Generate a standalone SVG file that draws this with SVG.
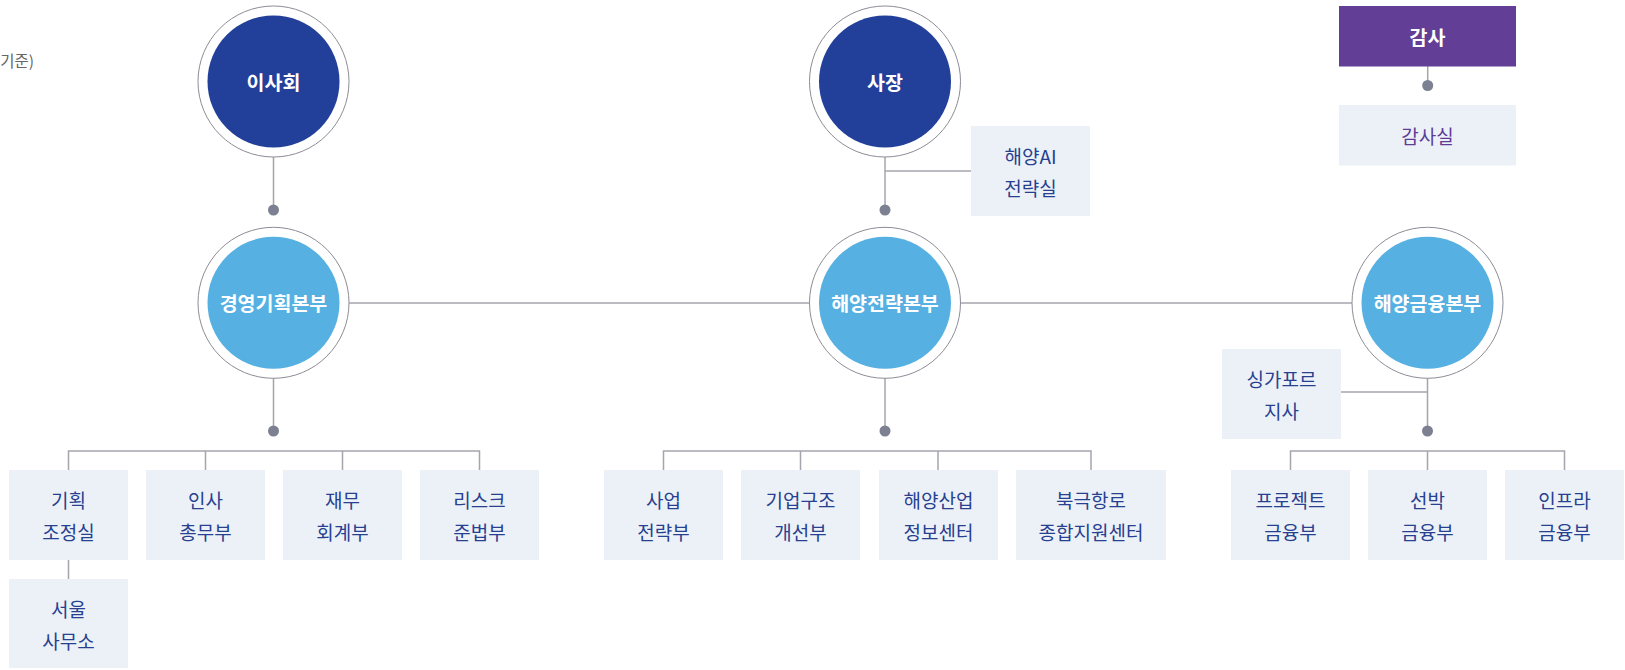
<svg xmlns="http://www.w3.org/2000/svg" width="1625" height="670" viewBox="0 0 1625 670">
<style>
text{font-family:"Noto Sans CJK KR","Noto Sans",sans-serif;text-anchor:middle;dominant-baseline:central}
.ring{fill:#fff;stroke:#8c8c96;stroke-width:1}
.navy{fill:#22409a}
.sky{fill:#56b0e2}
.ct{fill:#fff;font-size:19.5px;font-weight:700}
.box{fill:#ecf1f8}
.bt{fill:#27408f;font-size:19px}
.pt{fill:#5d3b97;font-size:19px}
.ln{stroke:#a5a5ad;stroke-width:1.5;fill:none}
.dot{fill:#7c8090}
.note{fill:#666;font-size:15.5px;text-anchor:end}
</style>
<rect width="1625" height="670" fill="#fff"/>
<text class="note" x="34" y="60">기준)</text>
<g id="connectors">
<path class="ln" d="M273.5 157V210M885 157V210M885 171H971M1427.7 66V85M349 303H1352"/>
<path class="ln" d="M273.5 378V431M68.5 470V451H479.5V470M205.5 451V470M342.5 451V470M68.5 560V579"/>
<path class="ln" d="M885 378V431M663.5 470V451H1091V470M800.5 451V470M938 451V470"/>
<path class="ln" d="M1427.5 378V431M1341 392H1427.5M1290.5 470V451H1564.5V470M1427.5 451V470"/>
<circle class="dot" cx="273.5" cy="210" r="5.5"/>
<circle class="dot" cx="885" cy="210" r="5.5"/>
<circle class="dot" cx="1427.7" cy="85.5" r="5.5"/>
<circle class="dot" cx="273.5" cy="431" r="5.5"/>
<circle class="dot" cx="885" cy="431" r="5.5"/>
<circle class="dot" cx="1427.5" cy="431" r="5.5"/>
</g>
<g id="board"><circle class="ring" cx="273.5" cy="81.5" r="75.5"/><circle class="navy" cx="273.5" cy="81.5" r="66"/><text class="ct" x="273.5" y="81.5">이사회</text></g>
<g id="president"><circle class="ring" cx="885" cy="81.5" r="75.5"/><circle class="navy" cx="885" cy="81.5" r="66"/><text class="ct" x="885" y="81.5">사장</text></g>
<g id="audit"><rect x="1339" y="6" width="177" height="60.5" fill="#633e96"/><text class="ct" x="1427.5" y="36">감사</text></g>
<g id="audit-office"><rect class="box" x="1339" y="105" width="177" height="60.5"/><text class="pt" x="1427.5" y="135">감사실</text></g>
<g id="ai-office"><rect class="box" x="971" y="126" width="119" height="90"/><text class="bt" x="1030.5" y="155">해양AI</text><text class="bt" x="1030.5" y="187">전략실</text></g>
<g id="mgmt"><circle class="ring" cx="273.5" cy="302.8" r="75.5"/><circle class="sky" cx="273.5" cy="302.8" r="66"/><text class="ct" x="273.5" y="302.8">경영기획본부</text></g>
<g id="strategy"><circle class="ring" cx="885" cy="302.8" r="75.5"/><circle class="sky" cx="885" cy="302.8" r="66"/><text class="ct" x="885" y="302.8">해양전략본부</text></g>
<g id="finance"><circle class="ring" cx="1427.5" cy="302.8" r="75.5"/><circle class="sky" cx="1427.5" cy="302.8" r="66"/><text class="ct" x="1427.5" y="302.8">해양금융본부</text></g>
<g id="singapore"><rect class="box" x="1222" y="349" width="119" height="90"/><text class="bt" x="1281.5" y="378">싱가포르</text><text class="bt" x="1281.5" y="410">지사</text></g>
<g id="planning"><rect class="box" x="9" y="470" width="119" height="90"/><text class="bt" x="68.5" y="499">기획</text><text class="bt" x="68.5" y="531">조정실</text></g>
<g id="hr"><rect class="box" x="146" y="470" width="119" height="90"/><text class="bt" x="205.5" y="499">인사</text><text class="bt" x="205.5" y="531">총무부</text></g>
<g id="accounting"><rect class="box" x="283" y="470" width="119" height="90"/><text class="bt" x="342.5" y="499">재무</text><text class="bt" x="342.5" y="531">회계부</text></g>
<g id="risk"><rect class="box" x="420" y="470" width="119" height="90"/><text class="bt" x="479.5" y="499">리스크</text><text class="bt" x="479.5" y="531">준법부</text></g>
<g id="seoul"><rect class="box" x="9" y="579" width="119" height="89"/><text class="bt" x="68.5" y="608">서울</text><text class="bt" x="68.5" y="640">사무소</text></g>
<g id="biz"><rect class="box" x="604" y="470" width="119" height="90"/><text class="bt" x="663.5" y="499">사업</text><text class="bt" x="663.5" y="531">전략부</text></g>
<g id="restructure"><rect class="box" x="741" y="470" width="119" height="90"/><text class="bt" x="800.5" y="499">기업구조</text><text class="bt" x="800.5" y="531">개선부</text></g>
<g id="info"><rect class="box" x="879" y="470" width="119" height="90"/><text class="bt" x="938.5" y="499">해양산업</text><text class="bt" x="938.5" y="531">정보센터</text></g>
<g id="arctic"><rect class="box" x="1016" y="470" width="150" height="90"/><text class="bt" x="1091" y="499">북극항로</text><text class="bt" x="1091" y="531">종합지원센터</text></g>
<g id="project"><rect class="box" x="1231" y="470" width="119" height="90"/><text class="bt" x="1290.5" y="499">프로젝트</text><text class="bt" x="1290.5" y="531">금융부</text></g>
<g id="ship"><rect class="box" x="1368" y="470" width="119" height="90"/><text class="bt" x="1427.5" y="499">선박</text><text class="bt" x="1427.5" y="531">금융부</text></g>
<g id="infra"><rect class="box" x="1505" y="470" width="119" height="90"/><text class="bt" x="1564.5" y="499">인프라</text><text class="bt" x="1564.5" y="531">금융부</text></g>
</svg>
